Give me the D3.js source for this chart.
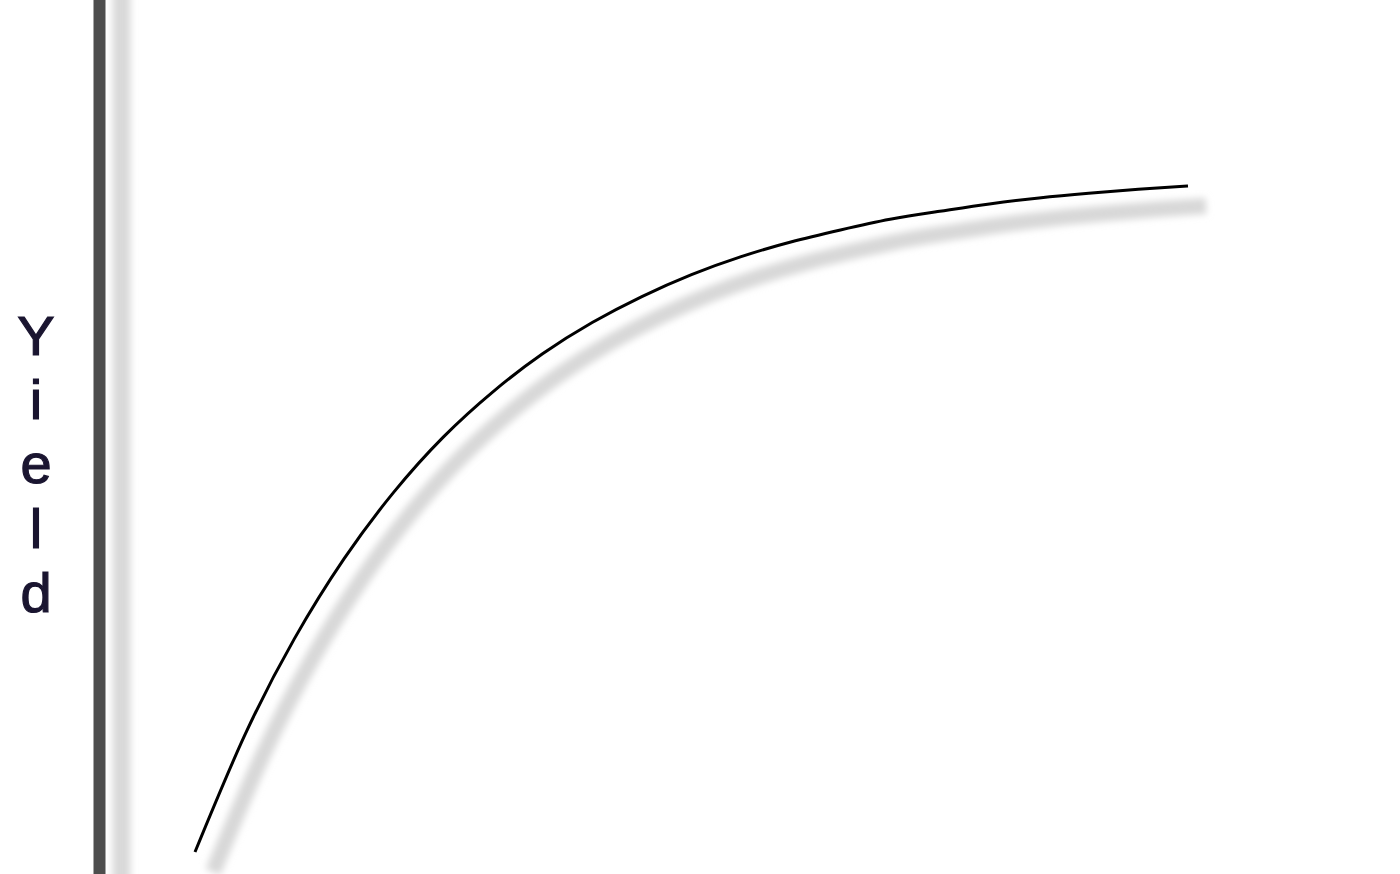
<!DOCTYPE html>
<html>
<head>
<meta charset="utf-8">
<script src="https://cdn.jsdelivr.net/npm/d3@7"></script>
<style>
  html, body { margin: 0; padding: 0; background: #ffffff; }
  svg { display: block; }
</style>
</head>
<body>
<svg id="chart" width="1400" height="874"></svg>
<script>
// Data (arbitrary units: input level vs. yield)
const inputLevels = [0, 5, 10, 15, 20, 25, 30, 35, 40, 45, 50, 55, 60, 65, 70, 75, 80, 85, 90, 95, 100];
const yieldValues = [0, 17.5, 32.0, 44.0, 54.0, 62.3, 69.1, 74.8, 79.5, 83.4, 86.7, 89.4, 91.6, 93.4, 95.0, 96.2, 97.3, 98.2, 98.9, 99.5, 100];
const axisLabel = "Yield";

const W = 1400, H = 874;
const svg = d3.select("#chart");

const defs = svg.append("defs");
defs.append("filter").attr("id", "blur")
  .attr("filterUnits", "userSpaceOnUse")
  .attr("x", -300).attr("y", -300).attr("width", 2000).attr("height", 1500)
  .append("feGaussianBlur").attr("stdDeviation", 3.5);

const x = d3.scaleLinear().domain([0, 100]).range([195, 1188]);
const y = d3.scaleLinear().domain([0, 100]).range([852, 186]);

const points = inputLevels.map((v, i) => [v, yieldValues[i]]);
const line = d3.line()
  .x(d => x(d[0]))
  .y(d => y(d[1]))
  .curve(d3.curveNatural);

// axis scale spanning the full height
const yAxisScale = d3.scaleLinear()
  .domain([y.invert(H + 20), y.invert(-20)])
  .range([H + 20, -20]);

// axis shadow
const axisShadow = svg.append("g")
  .attr("transform", "translate(121,0)")
  .attr("filter", "url(#blur)")
  .call(d3.axisLeft(yAxisScale).ticks(0).tickSize(0).tickSizeOuter(0));
axisShadow.select(".domain").attr("stroke", "#d9d9d9").attr("stroke-width", 18);
axisShadow.selectAll("text").remove();

// curve shadow
svg.append("path")
  .datum(points)
  .attr("d", line)
  .attr("transform", "translate(18,20)")
  .attr("fill", "none")
  .attr("stroke", "#d8d8d8")
  .attr("stroke-width", 16)
  .attr("stroke-linecap", "butt")
  .attr("filter", "url(#blur)");

// axis
const axisG = svg.append("g")
  .attr("transform", "translate(99,0)")
  .call(d3.axisLeft(yAxisScale).ticks(0).tickSize(0).tickSizeOuter(0));
axisG.select(".domain").attr("stroke", "#4d4d4d").attr("stroke-width", 12);
axisG.selectAll("text").remove();

// curve
svg.append("path")
  .datum(points)
  .attr("d", line)
  .attr("fill", "none")
  .attr("stroke", "#000000")
  .attr("stroke-width", 3);

// vertical stacked label
const label = svg.append("text")
  .attr("font-family", "Liberation Sans, Arial, sans-serif")
  .attr("font-size", 56)
  .attr("fill", "#1a1530")
  .attr("stroke", "#1a1530")
  .attr("stroke-width", 1.2)
  .attr("text-anchor", "middle");
label.selectAll("tspan")
  .data(axisLabel.split(""))
  .enter().append("tspan")
  .attr("x", 36)
  .attr("y", (d, i) => 355 + i * 64.2)
  .text(d => d);
</script>
</body>
</html>
